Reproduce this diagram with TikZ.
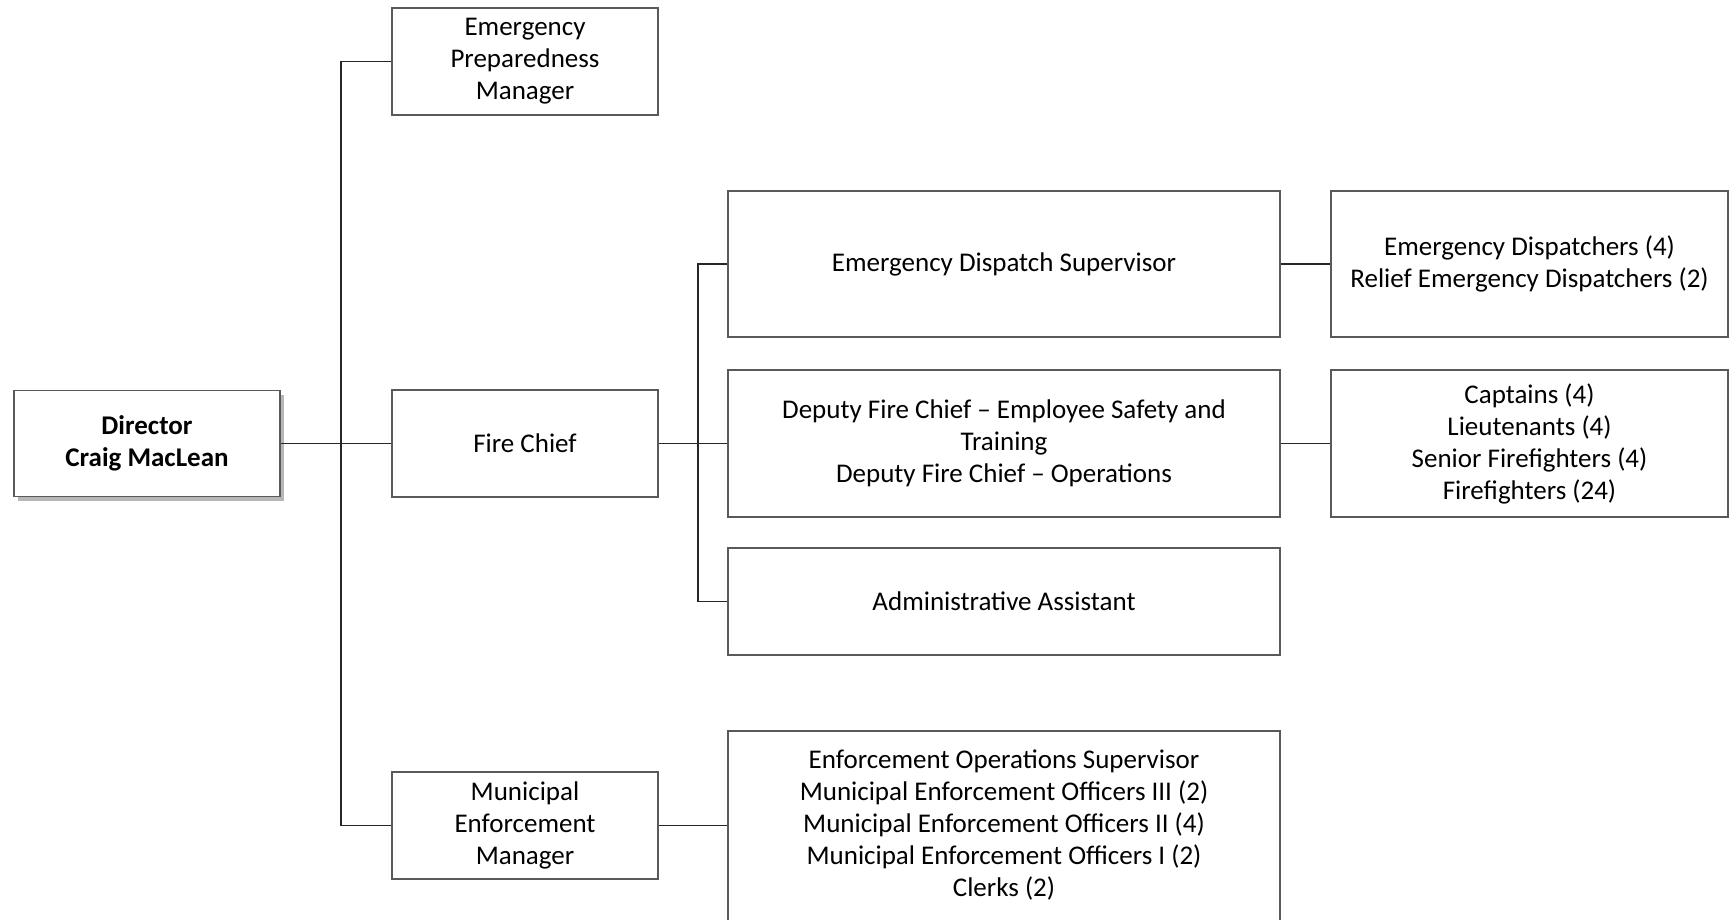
\documentclass[tikz,border=0pt]{standalone}
\usepackage{fontspec}
\setmainfont{Carlito}
\usetikzlibrary{shadows}
\begin{document}
\begin{tikzpicture}[x=1pt,y=-1pt,
  box/.style={draw=black!65, line width=1.5pt, fill=white, rectangle, align=center, inner sep=0pt,
    font=\fontsize{27}{32}\selectfont},
  conn/.style={draw=black!85, line width=1.6pt}]
\useasboundingbox (0,0) rectangle (1729,919);
\fill[white] (0,0) rectangle (1729,919);
\node[box, minimum width=266pt, minimum height=106pt, font=\fontsize{27}{32}\selectfont\bfseries,
  drop shadow={shadow xshift=4pt, shadow yshift=-4pt, opacity=0.4, fill=black!70}] (dir) at (147,443.5) {Director\\Craig MacLean};
\node[box, minimum width=266pt, minimum height=107pt] (epm) at (525,61.5) {Emergency\\Preparedness\\Manager};
\node[box, minimum width=266pt, minimum height=107pt] (fc) at (525,443.5) {Fire Chief};
\node[box, minimum width=266pt, minimum height=107pt] (mem) at (525,825.5) {Municipal\\Enforcement\\Manager};
\node[box, minimum width=552pt, minimum height=146pt] (eds) at (1004,264) {Emergency Dispatch Supervisor};
\node[box, minimum width=552pt, minimum height=147pt] (dfc) at (1004,443.5) {Deputy Fire Chief -- Employee Safety and\\Training\\Deputy Fire Chief -- Operations};
\node[box, minimum width=552pt, minimum height=107pt] (aa) at (1004,601.5) {Administrative Assistant};
\node[box, minimum width=552pt, minimum height=196pt] (bot) at (1004,829) {};
\node[align=center, inner sep=0pt, font=\fontsize{27}{32}\selectfont] (bott) at (1004,825.5) {Enforcement Operations Supervisor\\Municipal Enforcement Officers III (2)\\Municipal Enforcement Officers II (4)\\Municipal Enforcement Officers I (2)\\Clerks (2)};
\node[box, minimum width=397pt, minimum height=146pt] (ed) at (1529.5,264) {Emergency Dispatchers (4)\\Relief Emergency Dispatchers (2)};
\node[box, minimum width=397pt, minimum height=147pt] (cap) at (1529.5,443.5) {Captains (4)\\Lieutenants (4)\\Senior Firefighters (4)\\Firefighters (24)};
\coordinate (t1) at (341,0);
\coordinate (t2) at (698,0);
\draw[conn] (epm.west) -| (t1 |- mem.west) -- (mem.west);
\draw[conn] (dir.east) -- (fc.west);
\draw[conn] (eds.west) -| (t2 |- aa.west) -- (aa.west);
\draw[conn] (fc.east) -- (dfc.west);
\draw[conn] (eds.east) -- (ed.west);
\draw[conn] (dfc.east) -- (cap.west);
\draw[conn] (mem.east) -- (bot.west |- mem.east);
\end{tikzpicture}
\end{document}
